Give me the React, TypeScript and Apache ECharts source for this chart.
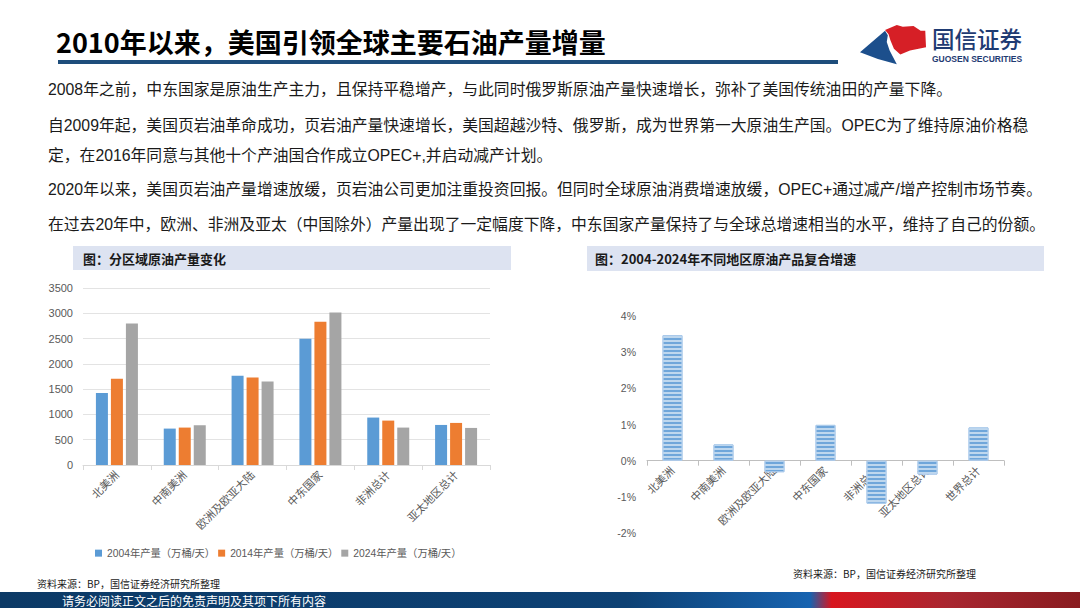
import React, { useEffect, useRef } from "react";
import * as echarts from "echarts";

const regions = ["北美洲", "中南美洲", "欧洲及欧亚大陆", "中东国家", "非洲总计", "亚太地区总计"];
const prod2004 = [1426, 720, 1763, 2496, 938, 792];
const prod2014 = [1704, 740, 1730, 2833, 878, 832];
const prod2024 = [2800, 786, 1651, 3018, 740, 733];
const seriesNames = ["2004年产量（万桶/天）", "2014年产量（万桶/天）", "2024年产量（万桶/天）"];
const cagrRegions = ["北美洲", "中南美洲", "欧洲及欧亚大陆", "中东国家", "非洲总计", "亚太地区总计", "世界总计"];
const cagr = [3.47, 0.45, -0.32, 0.99, -1.19, -0.385, 0.92];

const titleText = "2010年以来，美国引领全球主要石油产量增量";
const paragraphs = [
  "2008年之前，中东国家是原油生产主力，且保持平稳增产，与此同时俄罗斯原油产量快速增长，弥补了美国传统油田的产量下降。",
  "自2009年起，美国页岩油革命成功，页岩油产量快速增长，美国超越沙特、俄罗斯，成为世界第一大原油生产国。OPEC为了维持原油价格稳",
  "定，在2016年同意与其他十个产油国合作成立OPEC+,并启动减产计划。",
  "2020年以来，美国页岩油产量增速放缓，页岩油公司更加注重投资回报。但同时全球原油消费增速放缓，OPEC+通过减产/增产控制市场节奏。",
  "在过去20年中，欧洲、非洲及亚太（中国除外）产量出现了一定幅度下降，中东国家产量保持了与全球总增速相当的水平，维持了自己的份额。",
];
const paraY = [89, 125, 155, 189, 224];
const leftHeader = "图：分区域原油产量变化";
const rightHeader = "图：2004-2024年不同地区原油产品复合增速";
const sourceText = "资料来源：BP，国信证券经济研究所整理";
const footerText = "请务必阅读正文之后的免责声明及其项下所有内容";

const FONT = '"Liberation Sans", "Noto Sans CJK SC", sans-serif';
const CJK = '"Noto Sans CJK SC", "Liberation Sans", sans-serif';

// right grid geometry
const R_TOP = 316;
const R_HEIGHT = 217;
const R_MIN = -2;
const R_MAX = 4;
const zeroOffset = -(R_HEIGHT * (0 - R_MIN)) / (R_MAX - R_MIN);

// logo outline (drawing, not data)
const blueLogo = [[868.3, 53], [891.7, 32], [894.3, 36.3], [893.3, 43], [896, 51.3], [902.7, 64.7], [885, 59.7]];
const redLogo = [[891.7, 31.3], [902.7, 26.3], [908.3, 28], [918.3, 27.3], [925, 32], [929.3, 32], [930, 48], [915, 51.3], [906, 55.3], [900, 49.7], [896.7, 41.3], [895, 35.3]];
const fitLogo = (pts: number[][]) => pts.map(([x, y]) => [860 + (x - 868.3) * 1.07, 25 + (y - 26.3) * 1.02]);

export default function App() {
  const ref = useRef<HTMLDivElement>(null);
  useEffect(() => {
    if (!ref.current) return;
    const chart = echarts.init(ref.current, undefined, { renderer: "svg" });
    const axisLabelStyle = { color: "#595959", fontSize: 11, fontFamily: FONT };
    const graphics: any[] = [
      {
        type: "text",
        left: 56,
        top: 28,
        style: { text: titleText, font: `bold 27px ${CJK}`, fill: "#000" },
      },
      { type: "rect", shape: { x: 58, y: 60, width: 780, height: 4 }, style: { fill: "#1e4d7b" } },
      { type: "polygon", shape: { points: fitLogo(blueLogo) }, style: { fill: "#1c4f8c" } },
      { type: "polygon", shape: { points: fitLogo(redLogo) }, style: { fill: "#d61f26" } },
      { type: "text", x: 932, y: 38, style: { text: "国信证券", font: `500 22.5px ${CJK}`, fill: "#1f3b73", verticalAlign: "middle" } },
      { type: "text", x: 932, y: 59, style: { text: "GUOSEN SECURITIES", font: `bold 8.5px ${FONT}`, fill: "#1f3b73", verticalAlign: "middle" } },
      ...paragraphs.map((t, i) => ({
        type: "text",
        x: 48,
        y: paraY[i],
        style: { text: t, font: `15.8px ${FONT}`, fill: "#1a1a1a", verticalAlign: "middle" },
      })),
      { type: "rect", shape: { x: 73, y: 246, width: 438, height: 24 }, style: { fill: "#dde3f1" } },
      { type: "text", x: 83, y: 258, style: { text: leftHeader, font: `bold 13px ${CJK}`, fill: "#1a1a1a", verticalAlign: "middle" } },
      { type: "rect", shape: { x: 587, y: 246, width: 457, height: 25 }, style: { fill: "#dde3f1" } },
      { type: "text", x: 595, y: 258, style: { text: rightHeader, font: `bold 13px ${CJK}`, fill: "#1a1a1a", verticalAlign: "middle" } },
      { type: "text", x: 37, y: 583, style: { text: sourceText, font: `10px ${CJK}`, fill: "#1a1a1a", verticalAlign: "middle" } },
      { type: "text", x: 793, y: 573, style: { text: sourceText, font: `10px ${CJK}`, fill: "#1a1a1a", verticalAlign: "middle" } },
      {
        type: "rect",
        shape: { x: 0, y: 592, width: 1080, height: 16 },
        style: {
          fill: new echarts.graphic.LinearGradient(0, 0, 1, 0, [
            { offset: 0, color: "#0c3a66" },
            { offset: 0.58, color: "#0d4174" },
            { offset: 0.75, color: "#1763b0" },
            { offset: 0.77, color: "#d8161f" },
            { offset: 0.88, color: "#a82630" },
            { offset: 1, color: "#891c20" },
          ]),
        },
      },
      { type: "text", x: 62, y: 600, style: { text: footerText, font: `12px ${CJK}`, fill: "#ffffff", verticalAlign: "middle" } },
    ];

    const option: any = {
      animation: false,
      backgroundColor: "#ffffff",
      textStyle: { fontFamily: FONT },
      graphic: graphics,
      legend: {
        left: 90,
        top: 543,
        itemWidth: 7,
        itemHeight: 7,
        itemGap: 3,
        icon: "rect",
        data: seriesNames,
        textStyle: { color: "#595959", fontSize: 10.3, fontFamily: FONT },
      },
      grid: [
        { left: 83, top: 288, width: 407, height: 177, containLabel: false },
        { left: 647, top: R_TOP, width: 357, height: R_HEIGHT, containLabel: false },
      ],
      xAxis: [
        {
          type: "category",
          gridIndex: 0,
          data: regions,
          axisLine: { lineStyle: { color: "#d9d9d9" } },
          axisTick: { show: true, length: 5, lineStyle: { color: "#d9d9d9" } },
          axisLabel: { ...axisLabelStyle, rotate: 45, interval: 0, margin: 8 },
        },
        {
          type: "category",
          gridIndex: 1,
          data: cagrRegions,
          position: "bottom",
          offset: zeroOffset,
          axisLine: { onZero: false, lineStyle: { color: "#bfbfbf" } },
          axisTick: { show: true, length: 5, lineStyle: { color: "#bfbfbf" } },
          axisLabel: { ...axisLabelStyle, rotate: 45, interval: 0, margin: 8 },
        },
      ],
      yAxis: [
        {
          type: "value",
          gridIndex: 0,
          min: 0,
          max: 3500,
          interval: 500,
          axisLine: { show: false },
          axisTick: { show: false },
          axisLabel: { ...axisLabelStyle, margin: 10, formatter: (v: number) => String(v) },
          splitLine: { lineStyle: { color: "#e3e3e3" } },
        },
        {
          type: "value",
          gridIndex: 1,
          min: R_MIN,
          max: R_MAX,
          interval: 1,
          axisLine: { show: false },
          axisTick: { show: false },
          axisLabel: { ...axisLabelStyle, fontSize: 10.5, margin: 11, formatter: (v: number) => `${v}%` },
          splitLine: { show: false },
        },
      ],
      series: [
        { name: seriesNames[0], type: "bar", xAxisIndex: 0, yAxisIndex: 0, data: prod2004, barWidth: 12, barGap: "25%", itemStyle: { color: "#5b9bd5" } },
        { name: seriesNames[1], type: "bar", xAxisIndex: 0, yAxisIndex: 0, data: prod2014, barWidth: 12, barGap: "25%", itemStyle: { color: "#ed7d31" } },
        { name: seriesNames[2], type: "bar", xAxisIndex: 0, yAxisIndex: 0, data: prod2024, barWidth: 12, barGap: "25%", itemStyle: { color: "#a5a5a5" } },
        {
          name: "复合增速",
          type: "bar",
          xAxisIndex: 1,
          yAxisIndex: 1,
          data: cagr,
          barWidth: 20,
          itemStyle: {
            color: "#6fa6da",
            borderColor: "#a9c9ea",
            borderWidth: 1,
            decal: {
              symbol: "rect",
              symbolSize: 1,
              dashArrayX: [1, 0],
              dashArrayY: [1.2, 1.6],
              color: "rgba(255,255,255,0.55)",
              rotation: 0,
            },
          },
        },
      ],
    };
    chart.setOption(option);
    return () => chart.dispose();
  }, []);
  return (
    <div style={{ position: "fixed", left: 0, top: 0, width: 1080, height: 608, background: "#fff" }}>
      <div ref={ref} style={{ width: 1080, height: 608 }} />
    </div>
  );
}
